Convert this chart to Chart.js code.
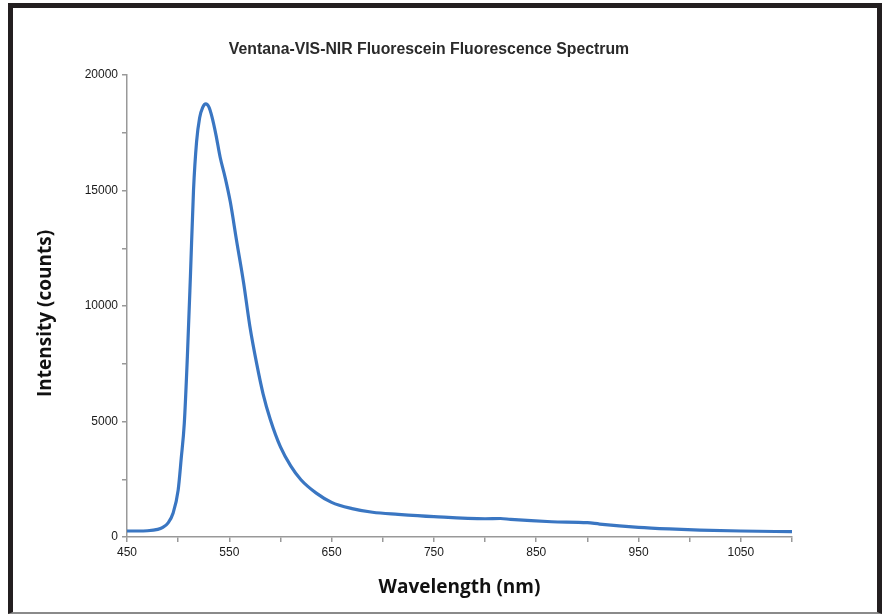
<!DOCTYPE html>
<html lang="en">
<head>
    <meta charset="UTF-8">
    <title>Ventana-VIS-NIR Fluorescein Fluorescence Spectrum</title>
    <script src="https://cdn.jsdelivr.net/npm/chart.js"></script>
    <style>
        html, body { margin: 0; padding: 0; background: #fff; overflow: hidden; }
        #chart { position: absolute; left: 0; top: 0; }
        #frame {
            position: absolute; left: 8px; top: 3px; width: 864px; height: 604px;
            border-top: 5px solid #231f20; border-left: 5px solid #231f20;
            border-right: 5px solid #231f20; border-bottom: 2px solid #8a8a8a;
            pointer-events: none;
        }
    </style>
</head>
<body>
    <canvas id="chart" width="883" height="614"></canvas>
    <div id="frame"></div>
    <script>
    // spectrum (nm, counts)
    const wavelength = [450, 460, 470, 480, 485, 490, 495, 500, 503, 506, 509, 512, 515, 518, 521, 524, 527, 530,
                        533, 537, 541, 546, 551, 557, 564, 570, 577, 583, 590, 600, 610, 620, 635, 650, 670, 690,
                        715, 750, 800, 815, 825, 865, 900, 912, 950, 980, 1010, 1050, 1100];
    const intensity = [260, 260, 270, 330, 420, 600, 1030, 2030, 3400, 4920, 7800, 11300, 15000, 17100, 18150, 18600, 18750, 18620,
                       18200, 17400, 16450, 15550, 14500, 12860, 11000, 9150, 7450, 6200, 5100, 3900, 3080, 2480, 1900, 1500, 1230, 1070,
                       980, 880, 790, 800, 760, 660, 620, 560, 420, 350, 300, 260, 230];

    const xLabels = [450, 550, 650, 750, 850, 950, 1050];
    const yLabels = [0, 5000, 10000, 15000, 20000];

    const chartTitle = 'Ventana-VIS-NIR Fluorescein Fluorescence Spectrum';

    // title is drawn by hand so it can sit off the plot centre like the original
    const titlePlugin = {
        id: 'plainTitle',
        afterDraw(chart) {
            const ctx = chart.ctx;
            ctx.save();
            ctx.font = 'bold 15.8px "Liberation Sans", Arial, sans-serif';
            ctx.fillStyle = '#2a2a2a';
            ctx.textAlign = 'center';
            ctx.textBaseline = 'middle';
            ctx.fillText(chartTitle, 429, 50);
            ctx.restore();
        }
    };

    const points = wavelength.map((w, i) => ({ x: w, y: intensity[i] }));

    const tickFont = { family: '"Liberation Sans", Arial, sans-serif', size: 12 };
    const axisTitleFont = { family: '"Open Sans", sans-serif', size: 19, weight: 'bold' };

    new Chart(document.getElementById('chart'), {
        type: 'line',
        data: {
            datasets: [{
                data: points,
                borderColor: '#3a76c2',
                borderWidth: 3.2,
                pointRadius: 0,
                fill: false,
                cubicInterpolationMode: 'monotone'
            }]
        },
        options: {
            responsive: false,
            animation: false,
            layout: { padding: { left: 0, right: 91, top: 75, bottom: 0 } },
            plugins: {
                legend: { display: false },
                tooltip: { enabled: false }
            },
            scales: {
                x: {
                    type: 'linear',
                    min: 450,
                    max: 1100,
                    afterFit: s => { s.height = 77; },
                    grid: { drawOnChartArea: false, drawTicks: true, tickLength: 5, color: '#999', lineWidth: 1.5 },
                    border: { color: '#999', width: 1.5 },
                    ticks: {
                        stepSize: 50,
                        autoSkip: false,
                        maxRotation: 0,
                        padding: 3,
                        color: '#1a1a1a',
                        font: tickFont,
                        callback: v => xLabels.includes(v) ? String(v) : ''
                    },
                    title: {
                        display: true,
                        text: 'Wavelength (nm)',
                        color: '#111',
                        font: axisTitleFont,
                        padding: { top: 0, bottom: 15 }
                    }
                },
                y: {
                    min: 0,
                    max: 20000,
                    afterFit: s => { s.width = 127; },
                    grid: { drawOnChartArea: false, drawTicks: true, tickLength: 5, color: '#999', lineWidth: 1.5 },
                    border: { color: '#999', width: 1.5 },
                    ticks: {
                        stepSize: 2500,
                        autoSkip: false,
                        padding: 4,
                        color: '#1a1a1a',
                        font: tickFont,
                        callback: v => yLabels.includes(v) ? String(v) : ''
                    },
                    title: {
                        display: true,
                        // trailing spaces nudge the label a little lower, as in the original
                        text: 'Intensity (counts)\u00a0\u00a0\u00a0',
                        color: '#111',
                        font: axisTitleFont,
                        padding: { top: 34, bottom: 0 }
                    }
                }
            }
        },
        plugins: [titlePlugin]
    });
    </script>
</body>
</html>
